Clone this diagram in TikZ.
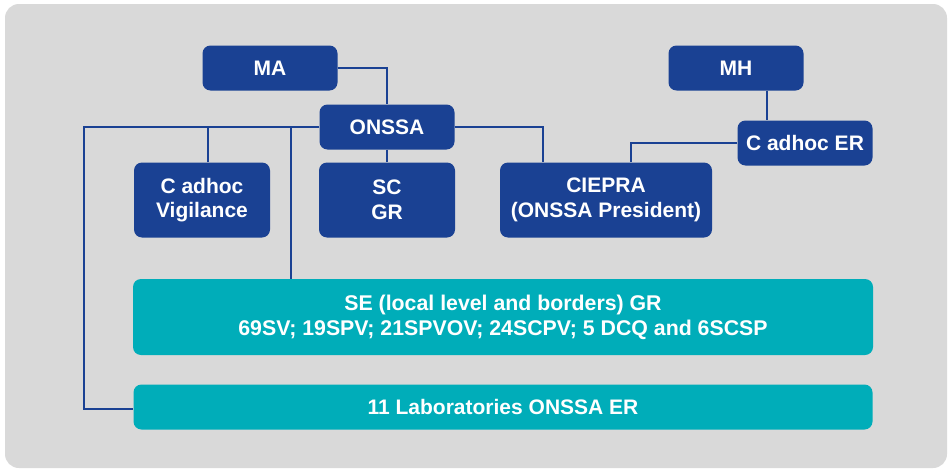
\documentclass[tikz,border=0pt]{standalone}
\usepackage{fontspec}
\setmainfont{Liberation Sans}
\usepackage{tikz}
\usetikzlibrary{positioning}

\definecolor{onsblue}{RGB}{26,65,147}
\definecolor{onsteal}{RGB}{0,173,185}
\definecolor{panelgray}{RGB}{217,217,217}

\begin{document}
\begin{tikzpicture}[x=1pt,y=-1pt]

\tikzset{
  unit/.style={rectangle, rounded corners=8pt, fill=onsblue, text=white,
    font=\fontsize{21}{24.5}\selectfont\bfseries, align=center, inner sep=0pt},
  service/.style={unit, fill=onsteal},
  link/.style={draw=onsblue, line width=2pt}
}

% panel
\useasboundingbox (0,0) rectangle (951,471);
\fill[white] (0,0) rectangle (951,471);
\fill[panelgray, rounded corners=14pt] (5,4) rectangle (947,468);

% top level
\node[unit, minimum width=135pt, minimum height=45pt] (MA) at (270,68) {MA};
\node[unit, minimum width=135pt, minimum height=45pt] (MH) at (736,68) {MH};
\node[unit, minimum width=135pt, minimum height=45pt] (ONSSA) at (387,127) {ONSSA};
\node[unit, minimum width=135pt, minimum height=45pt] (adhocER) at (805,143) {C adhoc ER};

% second level
\node[unit, minimum width=136pt, minimum height=75pt] (vigilance) at (202,200) {C adhoc\\Vigilance};
\node[unit, minimum width=136pt, minimum height=75pt] (SCGR) at (387,200) {SC\\GR};
\node[unit, minimum width=212pt, minimum height=75pt] (CIEPRA) at (606,200) {CIEPRA\\(ONSSA President)};

% services
\node[service, minimum width=740pt, minimum height=76pt,
  font=\fontsize{21.3}{25}\selectfont\bfseries] (SE) at (503,317)
  {SE (local level and borders) GR\\69SV; 19SPV; 21SPVOV; 24SCPV; 5 DCQ and 6SCSP};
\node[service, minimum width=739pt, minimum height=45pt] (labs) at (503,407) {11 Laboratories ONSSA ER};

\coordinate (bus) at (84,127);

% connectors
\draw[link] (MA.east) -| (ONSSA.north);
\draw[link] (ONSSA.south) -- (SCGR.north);
\draw[link] (ONSSA.east) -| ([xshift=-63pt]CIEPRA.north);
\draw[link] ([xshift=31pt]MH.south) -- ([xshift=31pt]MH.south |- adhocER.north);
\draw[link] (adhocER.west) -| ([xshift=25pt]CIEPRA.north);
\draw[link] (ONSSA.west) -- (bus) |- ([yshift=-2pt]labs.west);
\draw[link] ([xshift=6pt]vigilance.north) |- (ONSSA.west);
\draw[link] ([xshift=-212pt]SE.north) |- (ONSSA.west);

\end{tikzpicture}
\end{document}
